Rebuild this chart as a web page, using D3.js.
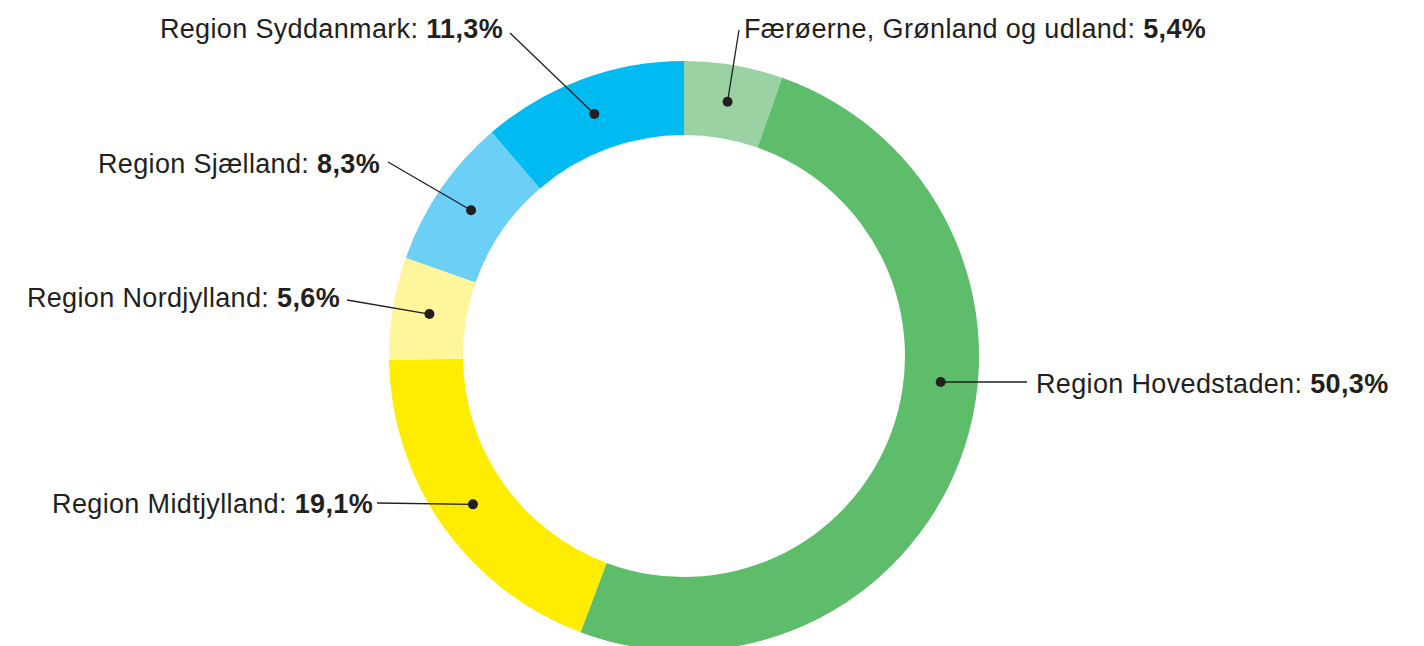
<!DOCTYPE html>
<html>
<head>
<meta charset="utf-8">
<script src="https://cdn.jsdelivr.net/npm/d3@7"></script>
<style>
  html, body { margin: 0; padding: 0; background: #fff; }
  svg text { font-family: "Liberation Sans", Arial, sans-serif; fill: #231f20; letter-spacing: 0.35px; }
</style>
</head>
<body>
<svg id="chart" width="1424" height="646"></svg>
<script>
// data, clockwise from 12 o'clock
var regions = ["Færøerne, Grønland og udland", "Region Hovedstaden", "Region Midtjylland",
    "Region Nordjylland", "Region Sjælland", "Region Syddanmark"];
var shares = [5.4, 50.3, 19.1, 5.6, 8.3, 11.3];
var shareLabels = ["5,4%", "50,3%", "19,1%", "5,6%", "8,3%", "11,3%"];
var colors = ["#9bd2a4", "#5ebd6b", "#ffed00", "#fff69c", "#6ccff6", "#00baf2"];

// label placement (text position + where the leader line meets the text)
var labelLayout = [
    { tx: 744, ty: 38, anchor: "start", lx: 739, ly: 30 },
    { tx: 1036, ty: 393, anchor: "start", lx: 1027, ly: 382, horizontal: true },
    { tx: 373, ty: 513, anchor: "end", lx: 377, ly: 503 },
    { tx: 340, ty: 307, anchor: "end", lx: 347, ly: 300 },
    { tx: 380, ty: 173, anchor: "end", lx: 388, ly: 162 },
    { tx: 503, ty: 38, anchor: "end", lx: 510, ly: 33 }
];

var cx = 684, cy = 356;
var outerR = 295, innerR = 221;
var midR = (outerR + innerR) / 2;
var FONT = 27;

var svg = d3.select("#chart");
var g = svg.append("g")
    .attr("transform", "translate(" + cx + "," + cy + ")");

var data = regions.map(function(r, i) {
    return { name: r, value: shares[i], label: shareLabels[i], color: colors[i], layout: labelLayout[i] };
});

var pie = d3.pie()
    .value(function(d) { return d.value; })
    .sort(null);

var arc = d3.arc()
    .innerRadius(innerR)
    .outerRadius(outerR);

var midArc = d3.arc()
    .innerRadius(midR)
    .outerRadius(midR);

var arcs = pie(data);

g.selectAll("path.slice")
    .data(arcs)
    .enter().append("path")
    .attr("class", "slice")
    .attr("d", arc)
    .attr("fill", function(d) { return d.data.color; });

// dot position: centroid on the middle of the ring, or level with the label
function dotPos(d) {
    var L = d.data.layout;
    if (L.horizontal) {
        var dy = L.ly - cy;
        return [Math.sqrt(midR * midR - dy * dy), dy];
    }
    return midArc.centroid(d);
}

var labels = g.selectAll("g.label")
    .data(arcs)
    .enter().append("g")
    .attr("class", "label");

labels.append("line")
    .attr("x1", function(d) { return dotPos(d)[0]; })
    .attr("y1", function(d) { return dotPos(d)[1]; })
    .attr("x2", function(d) { return d.data.layout.lx - cx; })
    .attr("y2", function(d) { return d.data.layout.ly - cy; })
    .attr("stroke", "#231f20")
    .attr("stroke-width", 1.3);

labels.append("circle")
    .attr("cx", function(d) { return dotPos(d)[0]; })
    .attr("cy", function(d) { return dotPos(d)[1]; })
    .attr("r", 5)
    .attr("fill", "#231f20");

var txt = labels.append("text")
    .attr("x", function(d) { return d.data.layout.tx - cx; })
    .attr("y", function(d) { return d.data.layout.ty - cy; })
    .attr("text-anchor", function(d) { return d.data.layout.anchor; })
    .style("font-size", FONT + "px");

txt.append("tspan")
    .text(function(d) { return d.data.name + ": "; });

txt.append("tspan")
    .style("font-weight", "bold")
    .text(function(d) { return d.data.label; });
</script>
</body>
</html>
